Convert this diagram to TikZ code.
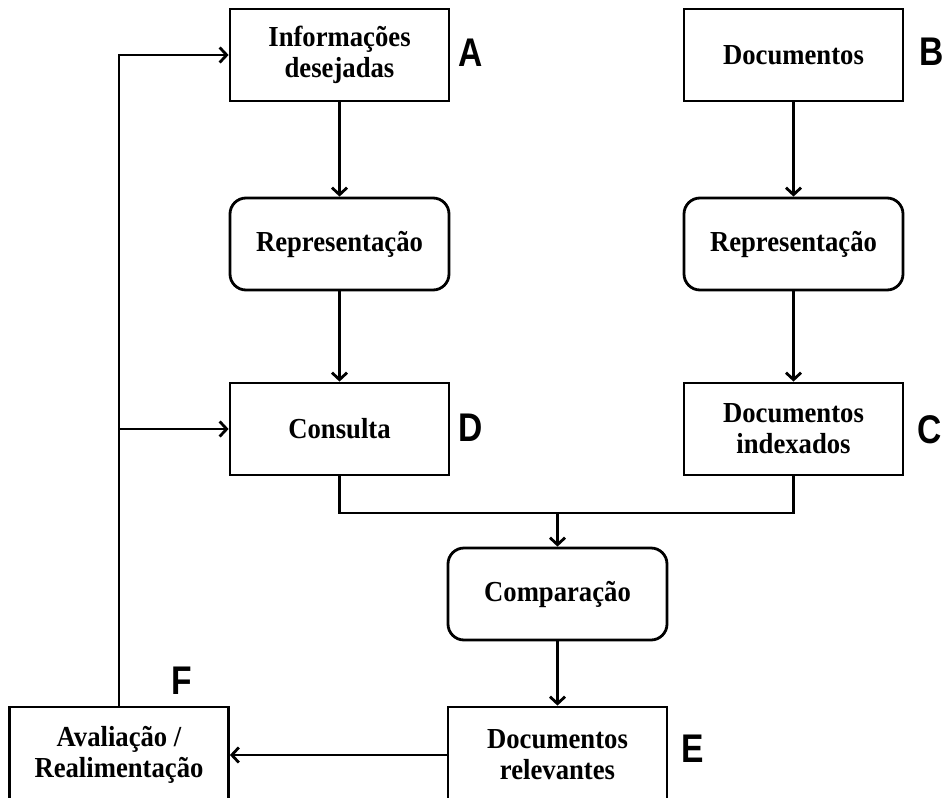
\documentclass[tikz,border=0pt]{standalone}
\usepackage{fontspec}
\setmainfont[FakeStretch=0.92]{Liberation Serif}
\newfontfamily\lblfont[FakeStretch=0.84]{Liberation Sans}
\usetikzlibrary{arrows.meta}
\begin{document}
\begin{tikzpicture}[x=1pt,y=-1pt,
  box/.style={draw, line width=2.8pt, minimum width=219pt, minimum height=92pt,
    align=center, inner sep=0pt, font=\fontsize{29}{31}\selectfont\bfseries},
  rbox/.style={box, rounded corners=16pt},
  openbox/.style={box, minimum height=96pt},
  tag/.style={inner sep=0pt, font=\fontsize{40}{40}\selectfont\lblfont\bfseries},
  link/.style={line width=2.8pt, line join=miter},
  flow/.style={link, -{Straight Barb[length=7pt,width=15pt]}}]
\useasboundingbox (0,0) rectangle (948,798);
\clip (0,0) rectangle (948,798);
\fill[white] (0,0) rectangle (948,798);

% query side
\node[box]  (A)  at (339.5,55)  {Informações\\desejadas};
\node[rbox] (R1) at (339.5,244) {Representação};
\node[box]  (D)  at (339.5,429) {Consulta};

% document side
\node[box]  (B)  at (793.5,55)  {Documentos};
\node[rbox] (R2) at (793.5,244) {Representação};
\node[box]  (C)  at (793.5,429) {Documentos\\indexados};

% matching and result
\node[rbox]    (Cmp) at (557.5,594) {Comparação};
\node[openbox] (E)   at (557.5,755) {Documentos\\relevantes};
\node[openbox] (F)   at (119,755)   {Avaliação /\\Realimentação};

% letter tags
\node[tag] (tA) at (471,53)  {A};
\node[tag] (tB) at (932,52)  {B};
\node[tag] (tD) at (471,428) {D};
\node[tag] (tC) at (930,430) {C};
\node[tag] (tE) at (693,749) {E};
\node[tag] (tF) at (182,681) {F};

% connectors
\draw[flow] (A) -- (R1);
\draw[flow] (R1) -- (D);
\draw[flow] (B) -- (R2);
\draw[flow] (R2) -- (C);
\coordinate (J) at (557.5,513);
\draw[link] (D.south) |- (J) -| (C.south);
\draw[flow] (J) -- (Cmp);
\draw[flow] (Cmp) -- (E);
\draw[flow] (E) -- (F);
\draw[flow] (F.north) |- (A.west);
\draw[flow] (F.north |- D.west) -- (D.west);
\end{tikzpicture}
\end{document}
